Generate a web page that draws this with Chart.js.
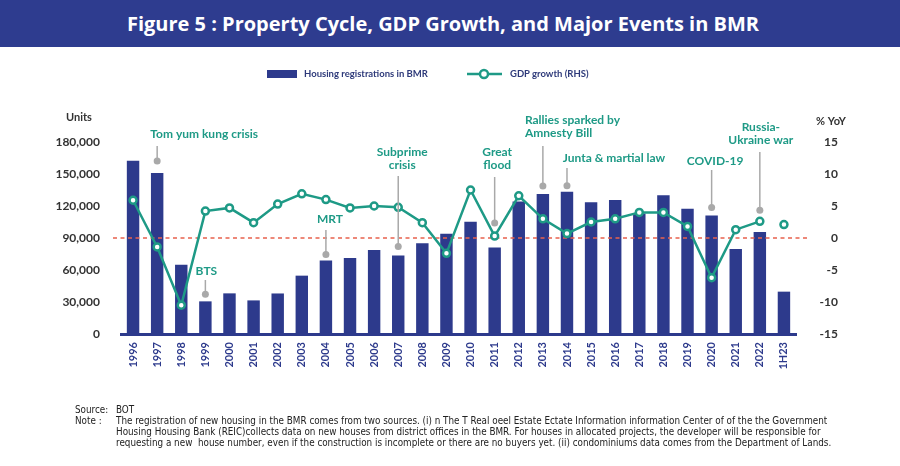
<!DOCTYPE html>
<html>
<head>
<meta charset="utf-8">
<script src="https://cdn.jsdelivr.net/npm/chart.js@4"></script>
<style>
  html, body { margin: 0; padding: 0; background: #fff; }
  #wrap { position: relative; width: 900px; height: 466px; overflow: hidden; font-family: Lato, "Noto Sans", sans-serif; }
  #title { position: absolute; left: 0; top: 0; width: 886px; padding-right: 14px; height: 47px; background: #2E3C8F;
           color: #fff; font-family: "Open Sans", Lato, sans-serif; font-weight: 700; font-size: 20px; line-height: 47px; text-align: center; }
  #chartbox { position: absolute; left: 0; top: 0; width: 900px; height: 466px; }
  #legend { position: absolute; top: 67px; left: 0; width: 900px; height: 14px; font-size: 9.5px; font-weight: 700; color: #2E3A7A; }
  .lg { position: absolute; top: 0; white-space: nowrap; line-height: 14px; }
  .sw { position: absolute; }
  #notes { position: absolute; left: 75px; top: 404px; font-family: "Liberation Sans Narrow", "DejaVu Sans Condensed", "Liberation Sans", sans-serif;
           font-size: 9.8px; color: #222; line-height: 11px; }
  #notes div { white-space: nowrap; }
  .lab { display: inline-block; width: 41px; }
  .ind { padding-left: 41px; }
</style>
</head>
<body>
<div id="wrap">
  <div id="chartbox"><canvas id="c"></canvas></div>
  <div id="title">Figure 5 : Property Cycle, GDP Growth, and Major Events in BMR</div>
  <div id="legend">
    <div class="sw" style="left:267px; top:3px; width:30px; height:8px; background:#2D3A8C;"></div>
    <div class="lg" style="left:304px;">Housing registrations in BMR</div>
    <svg class="sw" style="left:466px; top:0;" width="38" height="14">
      <line x1="1" y1="7" x2="36" y2="7" stroke="#1E9A86" stroke-width="2.5"/>
      <circle cx="18" cy="7" r="4" fill="#fff" stroke="#1E9A86" stroke-width="2.5"/>
    </svg>
    <div class="lg" style="left:510px;">GDP growth (RHS)</div>
  </div>
  <div id="notes">
    <div><span class="lab">Source:</span>BOT</div>
    <div><span class="lab">Note :</span>The registration of new housing in the BMR comes from two sources. (i) n The T Real oeel Estate Ectate Information information Center of of the the Government</div>
    <div class="ind">Housing Housing Bank (REIC)collects data on new houses from district offices in the BMR. For houses in allocated projects, the developer will be responsible for</div>
    <div class="ind">requesting a new&nbsp; house number, even if the construction is incomplete or there are no buyers yet. (ii) condominiums data comes from the Department of Lands.</div>
  </div>
</div>
<script>
const years = ['1996', '1997', '1998', '1999', '2000', '2001', '2002', '2003', '2004', '2005',
  '2006', '2007', '2008', '2009', '2010', '2011', '2012', '2013', '2014', '2015',
  '2016', '2017', '2018', '2019', '2020', '2021', '2022', '1H23'];

// housing registrations, units
const housing = [162500, 151000, 65000, 30600, 38100, 31500, 38000, 54700, 69000, 71200,
  78700, 73700, 85000, 94000, 105300, 81200, 124300, 131200, 133400, 123400,
  125600, 113000, 130000, 117500, 111000, 79700, 95600, 39700];

// GDP growth, % YoY
const gdp = [5.9, -1.4, -10.5, 4.2, 4.7, 2.4, 5.3, 6.9, 6.0, 4.7,
  5.0, 4.8, 2.4, -2.4, 7.5, 0.3, 6.6, 3.0, 0.7, 2.5,
  3.0, 4.0, 4.0, 1.8, -6.2, 1.3, 2.6, 2.1];

const unitTicks = [0, 30000, 60000, 90000, 120000, 150000, 180000];
const gdpTicks = [-15, -10, -5, 0, 5, 10, 15];

const events = [
  { year: '1997', text: ['Tom yum kung crisis'] },
  { year: '1999', text: ['BTS'] },
  { year: '2004', text: ['MRT'] },
  { year: '2007', text: ['Subprime', 'crisis'] },
  { year: '2011', text: ['Great', 'flood'] },
  { year: '2013', text: ['Rallies sparked by', 'Amnesty Bill'] },
  { year: '2014', text: ['Junta & martial law'] },
  { year: '2020', text: ['COVID-19'] },
  { year: '2022', text: ['Russia-', 'Ukraine war'] }
];

// label placement (pixels): text offset, text line y, leader top, anchor and gap above it
const eventLayout = {
  '1997': { dx: 47, ty: 134, top: 146, anchor: 'bar', gap: 12 },
  '1999': { dx: 1, ty: 271, top: 280, anchor: 'bar', gap: 7 },
  '2004': { dx: 4, ty: 219, top: 230, anchor: 'bar', gap: 6 },
  '2007': { dx: 4, ty: 152, top: 176, anchor: 'bar', gap: 9 },
  '2011': { dx: 2.5, ty: 152, top: 177, anchor: 'point', gap: 13 },
  '2013': { dx: -18, ty: 120, top: 146, anchor: 'bar', gap: 8, align: 'left' },
  '2014': { dx: 47, ty: 158, top: 168, anchor: 'bar', gap: 6 },
  '2020': { dx: 3.5, ty: 161, top: 170, anchor: 'bar', gap: 8 },
  '2022': { dx: 1, ty: 127, top: 152, anchor: 'point', gap: 11 }
};

const BLUE = '#2D3A8C';
const TEAL = '#1E9A86';
const GREY = '#A9A9A9';

const extras = {
  id: 'extras',
  afterDatasetDraw(chart, args) {
    // red zero line goes over the bars but under the GDP line
    if (args.index !== 1) return;
    const ctx = chart.ctx;
    const y = chart.scales.y1.getPixelForValue(0);
    ctx.save();
    ctx.strokeStyle = '#E8624E';
    ctx.lineWidth = 1.6;
    ctx.setLineDash([4, 3.5]);
    ctx.beginPath();
    ctx.moveTo(chart.chartArea.left - 8, y);
    ctx.lineTo(chart.chartArea.right + 11, y);
    ctx.stroke();
    ctx.restore();
  },
  afterDraw(chart) {
    const ctx = chart.ctx;
    const x = chart.scales.x, y = chart.scales.y, y1 = chart.scales.y1;
    ctx.save();
    ctx.fillStyle = '#333';
    ctx.font = '700 11px Lato, "Noto Sans", sans-serif';
    ctx.textAlign = 'center';
    ctx.textBaseline = 'middle';
    ctx.fillText('Units', 79, 117);
    ctx.fillText('% YoY', 831, 121);

    events.forEach(ev => {
      const lay = eventLayout[ev.year];
      const i = years.indexOf(ev.year);
      const cx = x.getPixelForValue(i);
      const base = lay.anchor === 'bar' ? y.getPixelForValue(housing[i]) : y1.getPixelForValue(gdp[i]);
      const dotY = base - lay.gap;
      ctx.strokeStyle = GREY;
      ctx.fillStyle = GREY;
      ctx.lineWidth = 1.5;
      ctx.beginPath();
      ctx.moveTo(cx, lay.top);
      ctx.lineTo(cx, dotY);
      ctx.stroke();
      ctx.beginPath();
      ctx.arc(cx, dotY, 3.5, 0, Math.PI * 2);
      ctx.fill();

      ctx.fillStyle = TEAL;
      ctx.font = '700 12px Lato, "Noto Sans", sans-serif';
      ctx.textAlign = lay.align || 'center';
      ev.text.forEach((t, k) => {
        ctx.fillText(t, cx + lay.dx, lay.ty + k * 13.5);
      });
    });
    ctx.restore();
  }
};

new Chart(document.getElementById('c'), {
  data: {
    labels: years,
    datasets: [
      {
        type: 'line',
        label: 'GDP growth (RHS)',
        data: gdp,
        yAxisID: 'y1',
        order: 0,
        borderColor: TEAL,
        borderWidth: 2.5,
        pointRadius: 3.5,
        pointBackgroundColor: '#fff',
        pointBorderColor: TEAL,
        pointBorderWidth: 2.5,
        tension: 0,
        segment: {
          borderColor: c => (c.p1DataIndex === years.length - 1 ? 'transparent' : TEAL)
        }
      },
      {
        type: 'bar',
        label: 'Housing registrations in BMR',
        data: housing,
        yAxisID: 'y',
        order: 1,
        backgroundColor: BLUE,
        barPercentage: 0.6,
        categoryPercentage: 0.86
      }
    ]
  },
  options: {
    responsive: true,
    maintainAspectRatio: false,
    animation: false,
    layout: { padding: { top: 142, left: 0, right: 62, bottom: 0 } },
    plugins: {
      legend: { display: false },
      tooltip: { enabled: false }
    },
    scales: {
      x: {
        offset: true,
        grid: { display: false, drawTicks: false },
        border: { display: true, color: BLUE, width: 3 },
        ticks: {
          color: BLUE,
          font: { family: 'Lato, "Noto Sans", sans-serif', size: 11, weight: '700' },
          minRotation: 90,
          maxRotation: 90,
          autoSkip: false,
          padding: 8
        },
        afterFit: s => { s.height = 132; }
      },
      y: {
        position: 'left',
        min: 0,
        max: 180000,
        afterBuildTicks: s => { s.ticks = unitTicks.map(v => ({ value: v })); },
        grid: { display: false, drawTicks: false },
        border: { display: false },
        ticks: {
          color: '#333',
          padding: 21,
          font: { family: 'Lato, "Noto Sans", sans-serif', size: 12, weight: '700' },
          callback: v => v.toLocaleString('en-US')
        },
        afterFit: s => { s.width = 121; }
      },
      y1: {
        position: 'right',
        min: -15,
        max: 15,
        afterBuildTicks: s => { s.ticks = gdpTicks.map(v => ({ value: v })); },
        grid: { display: false, drawTicks: false },
        border: { display: false },
        ticks: {
          color: '#333',
          padding: 20,
          crossAlign: 'far',
          font: { family: 'Lato, "Noto Sans", sans-serif', size: 12, weight: '700' }
        },
        afterFit: s => { s.width = 42; }
      }
    }
  },
  plugins: [extras]
});
</script>
</body>
</html>
